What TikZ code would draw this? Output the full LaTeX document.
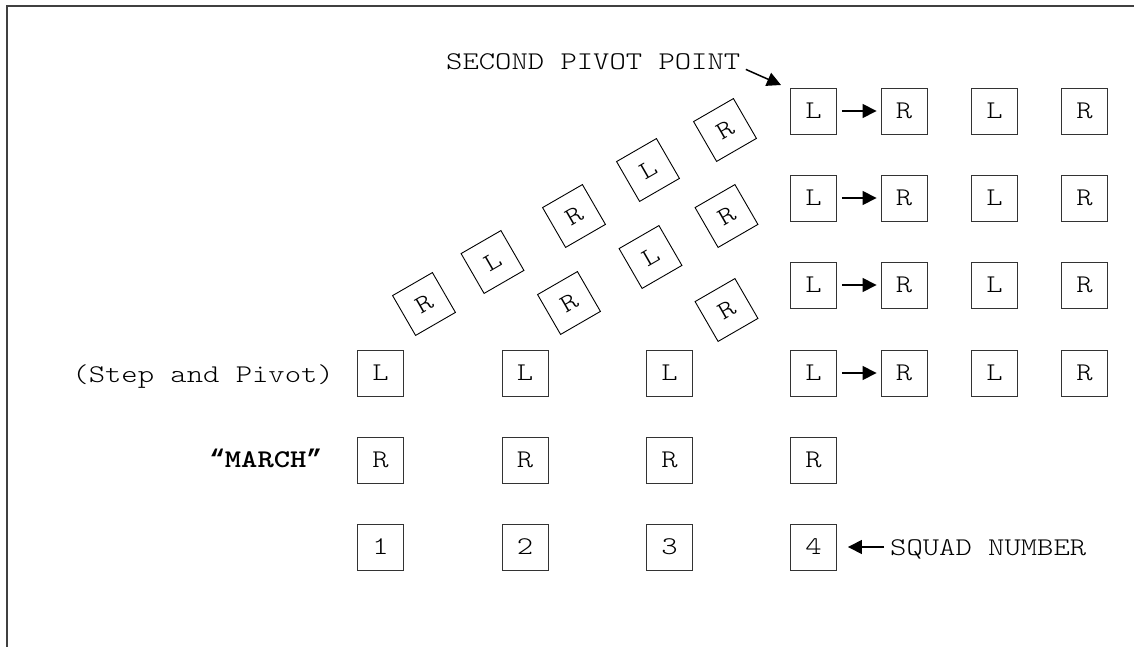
\documentclass[tikz,border=0pt]{standalone}
\usepackage{fontspec}
\newfontfamily\cour[FakeStretch=1.22]{Latin Modern Mono Light}
\newfontfamily\quotefont{Liberation Mono}
\usetikzlibrary{arrows.meta}
\begin{document}
\begin{tikzpicture}[x=1pt,y=-1pt,
  box/.style={draw=black!80, line width=0.9pt, minimum size=46pt, inner sep=0pt, font=\cour\fontsize{25.5}{30}\selectfont},
  rbox/.style={box, draw=black, rotate=30},
  lbl/.style={inner sep=0pt, font=\cour\fontsize{25.5}{30}\selectfont},
  arr/.style={line width=1.5pt, -{Triangle[length=14pt,width=14pt]}}]
\useasboundingbox (0,0) rectangle (1134,647);
\draw[line width=1.3pt, black!75] (7,647) -- (7,6) -- (1134,6);

% bottom rows
\foreach \i/\x in {1/380.5,2/525,3/669.5,4/813.5}{
  \node[box] (n\i) at (\x,547) {\i};
  \node[box] (m\i) at (\x,460) {R};
  \node[box] (s\i) at (\x,373) {L};
}
% right block
\foreach \r/\y in {1/111,2/198,3/285}{
  \node[box] (a\r) at (813.5,\y) {L};
  \node[box] (b\r) at (904,\y) {R};
  \node[box] (c\r) at (994.5,\y) {L};
  \node[box] (d\r) at (1084.5,\y) {R};
}
\node[box] (b4) at (904,373) {R};
\node[box] (c4) at (994.5,373) {L};
\node[box] (d4) at (1084.5,373) {R};

% rotated boxes
\node[rbox] (ra) at (424,304) {R};
\node[rbox] (rb) at (492.5,262) {L};
\node[rbox] (rc) at (574,216) {R};
\node[rbox] (rd) at (648,170) {L};
\node[rbox] (re) at (725,130) {R};
\node[rbox] (rf) at (569,303) {R};
\node[rbox] (rg) at (650.5,257) {L};
\node[rbox] (rh) at (726.5,216) {R};
\node[rbox] (ri) at (726.5,310) {R};

% labels
\node[lbl, anchor=base east] (sp) at (334,382) {(Step and Pivot)};
\node[lbl, anchor=base east, font=\cour\bfseries\fontsize{25.5}{30}\selectfont] (march) at (322,467) {{\quotefont\bfseries “}MARCH{\quotefont\bfseries ”}};
\node[lbl, anchor=base west] (spp) at (446,70) {SECOND PIVOT POINT};
\node[lbl, anchor=base west] (sq) at (890,555) {SQUAD NUMBER};

% arrows
\foreach \r in {1,2,3}{
  \draw[arr, shorten <=5pt, shorten >=4pt] (a\r) -- (b\r);
}
\draw[arr, shorten <=5pt, shorten >=4pt] (s4) -- (b4);
\draw[arr, shorten <=6pt, shorten >=11pt] (sq.west |- n4) -- (n4);
\coordinate (sppt) at (781,85);
\draw[arr, shorten <=6pt] ([yshift=3pt]spp.base east) -- (sppt);
\end{tikzpicture}
\end{document}
